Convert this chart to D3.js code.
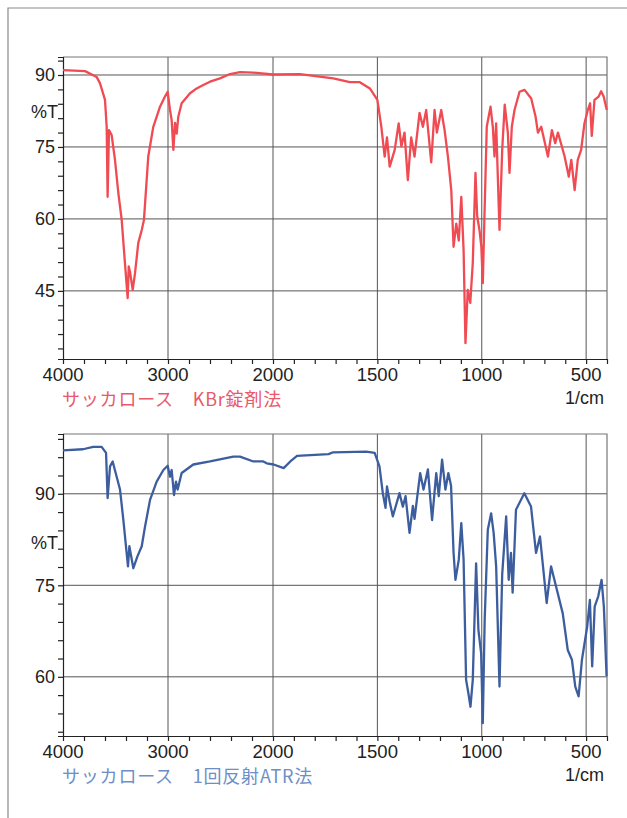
<!DOCTYPE html>
<html><head><meta charset="utf-8">
<script src="https://cdn.jsdelivr.net/npm/d3@7/dist/d3.min.js"></script>
<style>body{margin:0;background:#fff}svg{display:block}</style>
</head><body>
<svg id="c" width="627" height="818"></svg>
<script>
// ---- data ----
const kbrWn = [4000,3790,3680,3648,3600,3584,3575,3562,3537,3505,3473,3441,3410,3384,3374,3362,3336,3314,3283,3250,3229,3188,3140,3076,3029,3003,2981,2965,2949,2933,2917,2902,2870,2790,2727,2664,2600,2505,2410,2314,2190,2000,1871,1711,1632,1584,1536,1500,1481,1465,1454,1441,1417,1398,1385,1370,1354,1338,1322,1298,1282,1266,1242,1226,1215,1194,1178,1162,1146,1135,1122,1110,1098,1087,1078,1067,1055,1043,1030,1022,1011,1002,995,987,976,958,947,939,931,915,902,890,875,867,856,843,819,795,763,742,731,715,683,664,648,635,603,583,571,555,540,524,508,492,481,473,460,440,428,416,401];
const kbrT = [91,90.8,89.6,88.3,84.8,79.2,64.6,78.5,77.5,72.3,65.4,59.8,50.8,43.5,50.1,49,45.2,48.7,55,57.7,59.8,73,79.2,83.4,85.5,86.5,82.7,80.6,74.4,80,77.8,81.3,84.1,86.2,87.2,87.9,88.6,89.3,90.2,90.6,90.5,90.1,90.2,89.3,88.5,88.5,87.2,84.8,79.2,73,77,70.9,74.4,79.9,75.1,78,68.1,77,73,82.1,79.2,82.7,71.8,82.7,78,82.7,78.5,73,66,54.2,59,55.5,64.6,53.5,34.1,45.2,42.5,50.8,69.6,60.6,57.7,54.2,46.6,60.6,79.2,83.4,79.2,73,79.9,57.7,74.4,83.8,78,69.6,79.2,82.7,86.5,86.9,85.1,81.3,78,79.2,73,78.5,75.8,78,73,68.8,72.3,66,72.3,74.4,79.9,82.7,84.1,77.3,84.8,85.5,86.6,85.5,82.7];
const atrWn = [4000,3810,3712,3632,3590,3575,3552,3527,3489,3457,3425,3394,3381,3368,3330,3292,3250,3219,3171,3108,3044,3003,2981,2965,2943,2924,2908,2870,2759,2600,2378,2314,2187,2092,2060,1997,1949,1917,1885,1734,1712,1553,1513,1490,1474,1461,1454,1441,1426,1394,1378,1365,1346,1330,1322,1295,1279,1258,1238,1218,1206,1190,1174,1160,1147,1135,1126,1110,1098,1087,1075,1064,1054,1043,1027,1016,1003,995,986,971,955,943,931,915,902,883,871,860,852,836,796,764,740,721,700,689,668,644,612,588,568,552,536,520,495,482,471,459,442,426,415,402];
const atrT = [97.1,97.3,97.7,97.7,96.7,89.3,94.5,95.3,92.8,90.7,85.7,80.3,78.1,81.4,77.8,79.7,81.4,84.6,89,92,93.9,94.6,92.8,93.9,89.8,92,90.7,93.4,94.8,95.3,96.1,96.1,95.3,95.3,95.0,94.8,94.2,95.3,96.2,96.5,96.8,96.9,96.7,94.5,90.1,87.7,91.2,88.7,86.3,90.1,87.9,89.6,83.6,88,85.9,93.4,90.7,94,85.7,93.4,89.6,95.6,90.7,93.4,91.3,80.3,75.9,79.2,85.2,79.2,59.5,57.3,55.1,59.5,78.6,67.7,63.9,52.4,69.3,84.1,86.8,83.6,78.1,58.4,76.8,86.3,75.9,80.3,73.8,87.4,90.1,87.9,80.3,83,75.9,72.1,78.1,74.8,70.4,64.4,62.8,58.4,56.8,62.8,68.2,72.6,61.7,71.5,73.2,75.9,71.5,60.1];
const xTickLabels = [4000,3000,2000,1500,1000,500];
const topYLabels = [90,75,60,45];
const botYLabels = [90,75,60];
const topCaption = "サッカロース　KBr錠剤法";
const botCaption = "サッカロース　1回反射ATR法";
const unitLabel = "1/cm";
const yTitle = "%T";

const svg = d3.select("#c");
// page border
svg.append("path").attr("d","M8,818 V8 H627").attr("fill","none").attr("stroke","#8a8a8a").attr("stroke-width",1.2);

const minorX = d3.range(4000,1999,-200).concat(d3.range(1900,399,-100));
const lat = "'Liberation Sans', Arial, sans-serif";
const cjk = "'Noto Sans CJK JP', sans-serif";

function panel(opt){
  const x = d3.scaleLinear().domain([4000,2000,400]).range([63,273,607]);
  const y = d3.scaleLinear().domain(opt.yDom).range([opt.bottom, opt.top]);
  const g = svg.append("g");
  // grid
  g.selectAll(".gy").data(opt.yLabels).join("line")
    .attr("x1",63).attr("x2",607).attr("y1",d=>y(d)).attr("y2",d=>y(d))
    .attr("stroke","#555").attr("stroke-width",1);
  g.selectAll(".gx").data(xTickLabels.slice(1)).join("line")
    .attr("x1",d=>x(d)).attr("x2",d=>x(d)).attr("y1",opt.top).attr("y2",opt.bottom)
    .attr("stroke","#555").attr("stroke-width",1);
  // frame top/right
  g.append("path").attr("d",`M63,${opt.top} H607 V${opt.bottom}`).attr("fill","none").attr("stroke","#777").attr("stroke-width",1.2);
  // axes
  const ya = d3.axisLeft(y).tickValues(opt.minorY).tickSize(5).tickFormat("");
  g.append("g").attr("transform","translate(63,0)").call(ya)
    .call(s=>s.selectAll("line,path").attr("stroke","#222").attr("stroke-width",1.2));
  const xa = d3.axisBottom(x).tickValues(minorX).tickSize(5).tickFormat("").tickSizeOuter(0);
  g.append("g").attr("transform",`translate(0,${opt.bottom})`).call(xa)
    .call(s=>s.selectAll("line,path").attr("stroke","#222").attr("stroke-width",1.2));
  // line
  const pts = opt.wn.map((w,i)=>[w,opt.t[i]]);
  g.append("path").datum(pts)
    .attr("d", d3.line().x(d=>x(d[0])).y(d=>y(d[1])))
    .attr("fill","none").attr("stroke",opt.color).attr("stroke-width",2.3).attr("stroke-linejoin","round");
  // labels
  g.selectAll(".yl").data(opt.yLabels).join("text")
    .attr("x",55).attr("y",d=>y(d)+6.5).attr("text-anchor","end")
    .attr("font-family",lat).attr("font-size",18).attr("fill","#222").text(d=>d);
  g.append("text").attr("x",31).attr("y",opt.pctY).attr("font-family",lat).attr("font-size",18).attr("fill","#222").text(yTitle);
  g.selectAll(".xl").data(xTickLabels).join("text")
    .attr("x",d=>x(d)).attr("y",opt.bottom+21.5).attr("text-anchor","middle")
    .attr("font-family",lat).attr("font-size",18.5).attr("fill","#222").text(d=>d);
  g.append("text").attr("x",604).attr("y",opt.bottom+44.5).attr("text-anchor","end")
    .attr("font-family",lat).attr("font-size",18).attr("fill","#222").text(unitLabel);
  g.append("text").attr("x",62).attr("y",opt.bottom+46.5).attr("font-family",cjk).attr("font-size",18)
    .attr("letter-spacing",0.8).attr("fill",opt.capColor).text(opt.caption);
}

panel({yDom:[30.8,93.75], top:57, bottom:359, yLabels:topYLabels, minorY:d3.range(33,94,3),
  wn:kbrWn, t:kbrT, color:"#f04a52", capColor:"#e8596a", caption:topCaption, pctY:118});
panel({yDom:[50.3,99.8], top:434, bottom:736, yLabels:botYLabels, minorY:d3.range(51,100,3),
  wn:atrWn, t:atrT, color:"#3d5e9e", capColor:"#6d8fc6", caption:botCaption, pctY:549});
</script>
</body></html>
